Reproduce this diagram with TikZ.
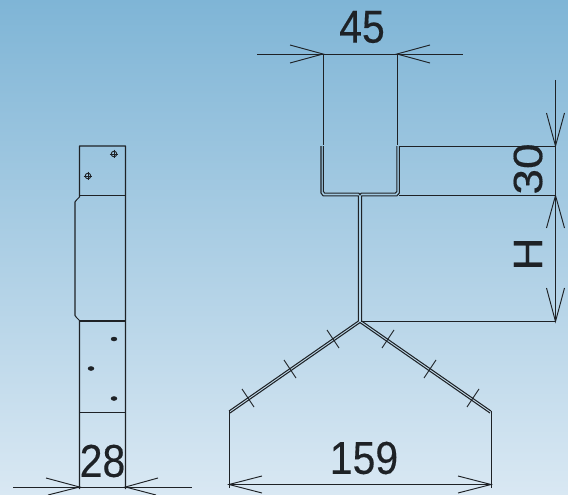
\documentclass[tikz,border=0pt]{standalone}
\usepackage{fontspec}
\setmainfont[FakeBold=0.35]{Liberation Sans}
\definecolor{bgtop}{HTML}{7FB5D6}
\definecolor{bgbot}{HTML}{D9E8F3}
\definecolor{ink}{HTML}{1E2226}
\tikzset{
  part/.style={draw=ink,line width=1.05pt,line join=round},
  thin part/.style={draw=ink,line width=0.95pt},
  dim/.style={draw=ink,line width=0.95pt},
  prof/.style={draw=ink,line width=1.05pt,line join=round},
  label/.style={font=\fontsize{46}{46}\selectfont,text=ink,inner sep=0pt,xscale=0.89},
  hole/.style={fill=ink,draw=ink,line width=0.4pt}
}
\begin{document}
\begin{tikzpicture}[x=1pt,y=-1pt]
\path[use as bounding box,top color=bgtop,bottom color=bgbot] (0,0) rectangle (568,495);

% side view
\draw[part] (125.5,489) -- (125.5,146) -- (79.5,146) -- (79.5,197) -- (76.5,200) -- (75,202) -- (75,315.5) -- (76.5,317.5) -- (79.5,320.5) -- (79.5,489);
\draw[part] (79.5,195.5) -- (125.5,195.5);
\draw[part] (79.5,321) -- (125.5,321);
\draw[part] (79.5,412.5) -- (125.5,412.5);
% holes
\foreach \hx/\hy in {114/154,88/176}{
  \draw[draw=ink,line width=0.9pt] (\hx,\hy) circle[radius=2.8];
  \draw[draw=ink,line width=0.7pt] (\hx-4.3,\hy) -- (\hx+4.3,\hy) (\hx,\hy-4.3) -- (\hx,\hy+4.3);
}
\foreach \hx/\hy in {114/339,91/368.5,114/398.5}{
  \path[hole] (\hx,\hy) ellipse[x radius=3,y radius=2];
}
% side dimension
\draw[dim] (13,487) -- (192,487);
\draw[dim] (46,478) -- (79.5,487) -- (48,495);
\draw[dim] (158,478) -- (125.5,487) -- (156,495);
\node[label] (w28) at (102.5,461) {28};

% section: upper walls
\draw[thin part] (323,54) -- (323,145);
\draw[thin part] (397,54) -- (397,145);
% section: profile (double line)
\draw[prof] (321,146) -- (321,193) -- (323,195.8) -- (358.4,195.8) -- (358.4,321) -- (229,411);
\draw[prof] (323.4,146) -- (323.4,191.5) -- (324.8,193.2) -- (359,193.2) -- (360,195) -- (361,193.2) -- (395.2,193.2) -- (396.9,191.5) -- (396.9,146);
\draw[prof] (399.4,146) -- (399.4,193) -- (397,195.8) -- (361.6,195.8) -- (361.6,321) -- (491,411);
\draw[prof] (360,322.6) -- (230,413);
\draw[prof] (360,322.6) -- (490,413);
% legs
\draw[thin part] (229,411) -- (229,488);
\draw[thin part] (491,411) -- (491,488);
% ticks
\foreach \tx/\ty in {333/339,290/369,248/398}{
  \draw[dim] (\tx-6,\ty-9) -- (\tx+6,\ty+9);
}
\foreach \tx/\ty in {388/339,430/369,473/398}{
  \draw[dim] (\tx+6,\ty-9) -- (\tx-6,\ty+9);
}
% top dimension
\draw[dim] (257,54) -- (463,54);
\draw[dim] (290,45) -- (323,54) -- (290,63);
\draw[dim] (430,45) -- (397,54) -- (430,63);
\node[label] (w45) at (362,27) {45};

% bottom dimension
\draw[dim] (229,484.5) -- (491,484.5);
\draw[dim] (262,476) -- (229,484.5) -- (262,493);
\draw[dim] (458,476) -- (491,484.5) -- (458,493);
\node[label] (w159) at (364,458) {159};

% right dimensions
\draw[thin part] (400,146) -- (556,146);
\draw[thin part] (399,195.8) -- (556,195.8);
\draw[thin part] (361,321.5) -- (556,321.5);
\draw[dim] (555.5,80) -- (555.5,322);
\draw[dim] (546.5,113) -- (555.5,146) -- (564.5,113);
\draw[dim] (546.5,228) -- (555.5,195.5) -- (564.5,228);
\draw[dim] (546.5,288) -- (555.5,321.5) -- (564.5,288);
\node[label,rotate=90] (h30) at (528,169) {30};
\node[label,rotate=90] (hH) at (528,254) {H};
\end{tikzpicture}
\end{document}
